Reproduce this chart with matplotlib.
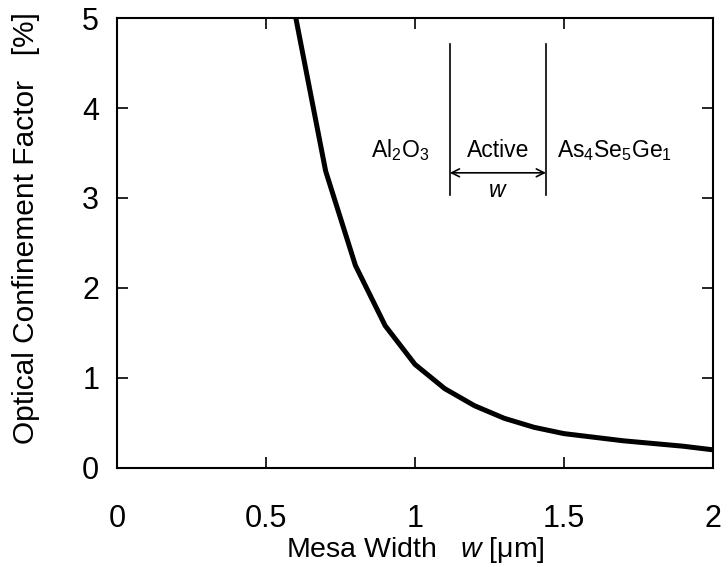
import numpy as np
import matplotlib.pyplot as plt
from matplotlib.ticker import FormatStrFormatter

plt.rcParams['font.family'] = ['Liberation Sans', 'DejaVu Sans']
plt.rcParams['mathtext.fontset'] = 'custom'
plt.rcParams['mathtext.rm'] = 'Liberation Sans'
plt.rcParams['mathtext.it'] = 'Liberation Sans:italic'
plt.rcParams['mathtext.default'] = 'regular'

# confinement factor vs mesa width
width_um = [0.6, 0.7, 0.8, 0.9, 1.0, 1.1, 1.2, 1.3, 1.4, 1.5, 1.6, 1.7, 1.8, 1.9, 2.0]
gamma_pct = [5.0, 3.3, 2.25, 1.58, 1.15, 0.88, 0.69, 0.55, 0.45, 0.38, 0.34, 0.30, 0.27, 0.24, 0.20]

xticks = [0, 0.5, 1, 1.5, 2]
yticks = [0, 1, 2, 3, 4, 5]

fig = plt.figure(figsize=(7.28, 5.67), dpi=100)
ax = fig.add_axes([0.161, 0.175, 0.818, 0.793])

ax.plot(width_um, gamma_pct, color='black', lw=3.6, solid_joinstyle='round')

ax.set_xlim(0, 2)
ax.set_ylim(0, 5)
ax.set_xticks(xticks)
ax.set_yticks(yticks)
ax.xaxis.set_major_formatter(FormatStrFormatter('%g'))
ax.tick_params(direction='in', top=True, right=True, length=8, width=1.2,
               labelsize=22)
ax.tick_params(axis='x', pad=26)
ax.tick_params(axis='y', pad=13)
for s in ax.spines.values():
    s.set_linewidth(1.5)

ax.set_xlabel(r'Mesa Width   $\it{w}$ [$\mu$m]', fontsize=20.5, labelpad=1)
ax.set_ylabel('Optical Confinement Factor   [%]', fontsize=21.5)
ax.yaxis.set_label_coords(-0.129, 0.533)

# structure sketch: Al2O3 | Active | As4Se5Ge1
xl, xr = 1.117, 1.44
ax.plot([xl, xl], [3.03, 4.71], color='black', lw=1.2)
ax.plot([xr, xr], [3.03, 4.71], color='black', lw=1.2)
ax.annotate('', xy=(xl, 3.28), xytext=(xr, 3.28),
            arrowprops=dict(arrowstyle='<->', color='black', lw=1.2,
                            shrinkA=0, shrinkB=0, mutation_scale=14))
ax.text(0.95, 3.53, r'Al$_2$O$_3$', fontsize=16.5, ha='center', va='center')
ax.text(1.28, 3.53, 'Active', fontsize=16.5, ha='center', va='center')
ax.text(1.67, 3.53, r'As$_4$Se$_5$Ge$_1$', fontsize=16.5, ha='center', va='center')
ax.text(1.28, 3.08, r'$\it{w}$', fontsize=16.5, ha='center', va='center')

fig.savefig('out.png', dpi=100)
